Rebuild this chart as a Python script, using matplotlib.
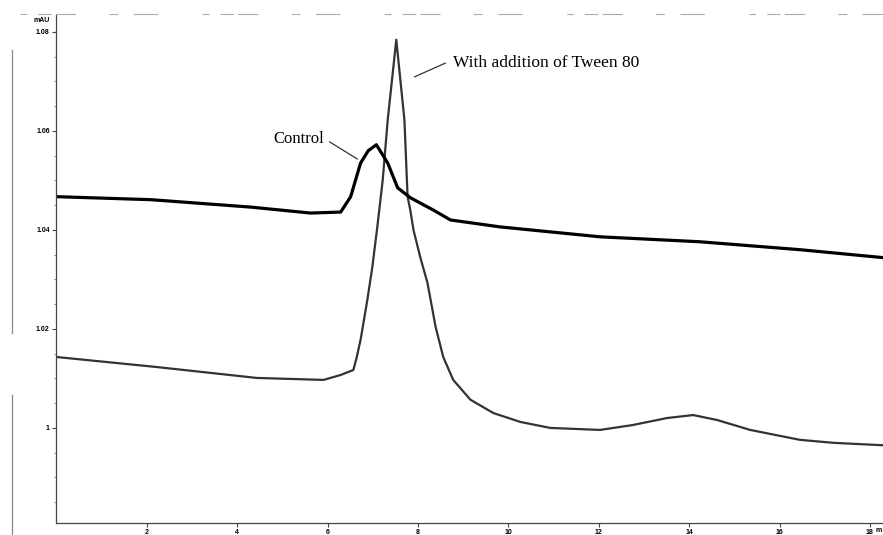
import matplotlib
matplotlib.use('Agg')
import matplotlib.pyplot as plt
from matplotlib.lines import Line2D
import numpy as np

# retention time (min) and absorbance (mAU)
control_t = [0.03, 2.09, 4.30, 5.62, 6.29, 6.51, 6.73, 6.90, 7.08, 7.33, 7.55,
             7.83, 8.34, 8.72, 9.82, 12.03, 14.24, 16.45, 18.29]
control_y = [1.0467, 1.0461, 1.0446, 1.0434, 1.0436, 1.0467, 1.0535, 1.0560, 1.0572,
             1.0535, 1.0485, 1.0465, 1.0440, 1.0420, 1.0406, 1.0386, 1.0376, 1.0360, 1.0344]

tween_t = [0.03, 2.22, 4.43, 5.91, 6.29, 6.57, 6.64, 6.73, 6.88, 6.99, 7.10, 7.22,
           7.33, 7.52, 7.70, 7.77, 7.83, 7.90, 8.05, 8.21, 8.39, 8.56, 8.78, 9.16,
           9.67, 10.27, 10.93, 12.03, 12.76, 13.51, 14.09, 14.62, 15.35, 16.45,
           17.18, 18.29]
tween_y = [1.0143, 1.0123, 1.0101, 1.0097, 1.0107, 1.0117, 1.0141, 1.0178, 1.0259,
           1.0325, 1.0406, 1.0501, 1.0622, 1.0784, 1.0622, 1.0467, 1.0440, 1.0400,
           1.0345, 1.0293, 1.0204, 1.0143, 1.0097, 1.0057, 1.0030, 1.0012, 1.0000,
           0.9996, 1.0006, 1.0020, 1.0026, 1.0016, 0.9996, 0.9976, 0.9970, 0.9965]

x_ticks = [2, 4, 6, 8, 10, 12, 14, 16, 18]
y_ticks = [1.0, 1.02, 1.04, 1.06, 1.08]
y_labels = ['1', '1.02', '1.04', '1.06', '1.08']

fig = plt.figure(figsize=(8.83, 5.35), dpi=100)
ax = fig.add_axes([56 / 883, 12 / 535, 827 / 883, 508 / 535])

ax.plot(tween_t, tween_y, color='#333333', lw=1.6)
ax.plot(control_t, control_y, color='black', lw=2.3)

ax.set_xlim(-0.01, 18.29)
ax.set_ylim(0.9808, 1.0834)

for s in ['top', 'right']:
    ax.spines[s].set_visible(False)
for s in ['left', 'bottom']:
    ax.spines[s].set_color('#444444')
    ax.spines[s].set_linewidth(0.9)

ax.set_xticks(x_ticks)
ax.set_xticklabels([str(v) for v in x_ticks])
ax.set_yticks(y_ticks)
ax.set_yticklabels(y_labels)
ax.set_yticks(np.arange(0.985, 1.083, 0.005), minor=True)
ax.tick_params(axis='both', which='major', length=3, width=0.8, color='#444444',
               labelsize=5, pad=1.5)
ax.tick_params(axis='y', which='minor', length=1.5, width=0.6, color='#777777')
for lab in ax.get_xticklabels() + ax.get_yticklabels():
    lab.set_fontweight('bold')
    lab.set_family('Liberation Sans')

# axis unit labels (the "min" is cropped to "m" in the scan)
fig.text(50 / 883, 1 - 21 / 535, 'mAU', ha='right', va='center', fontsize=5,
         fontweight='bold', family='Liberation Sans')
fig.text(876 / 883, 1 - 531 / 535, 'm', ha='left', va='center', fontsize=5,
         fontweight='bold', family='Liberation Sans')

# annotations with leader lines
ax.text(5.37, 1.0583, 'Control', ha='center', va='center', fontsize=12,
        family='Liberation Serif')
ax.annotate('', xy=(6.66, 1.0543), xytext=(6.04, 1.0578),
            arrowprops=dict(arrowstyle='-', color='#333333', lw=0.9,
                            shrinkA=0, shrinkB=0))
ax.text(10.84, 1.0738, 'With addition of Tween 80', ha='center', va='center',
        fontsize=12.5, family='Liberation Serif')
ax.annotate('', xy=(7.92, 1.0709), xytext=(8.61, 1.0737),
            arrowprops=dict(arrowstyle='-', color='#333333', lw=0.9,
                            shrinkA=0, shrinkB=0))

# scan artefacts: faint rule at the left edge and the dashed header strip
fig.add_artist(Line2D([12 / 883, 12 / 883], [1 - 50 / 535, 1 - 333 / 535],
                      color='#888888', lw=0.9))
fig.add_artist(Line2D([12 / 883, 12 / 883], [1 - 395 / 535, 0.0],
                      color='#888888', lw=0.9))
hdr = Line2D([20 / 883, 1.0], [1 - 14 / 535, 1 - 14 / 535], color='#aaaaaa', lw=0.8)
hdr.set_dashes([6, 10, 12, 4, 18, 30, 8, 14, 22, 40])
fig.add_artist(hdr)

fig.savefig('out.png', dpi=100)
